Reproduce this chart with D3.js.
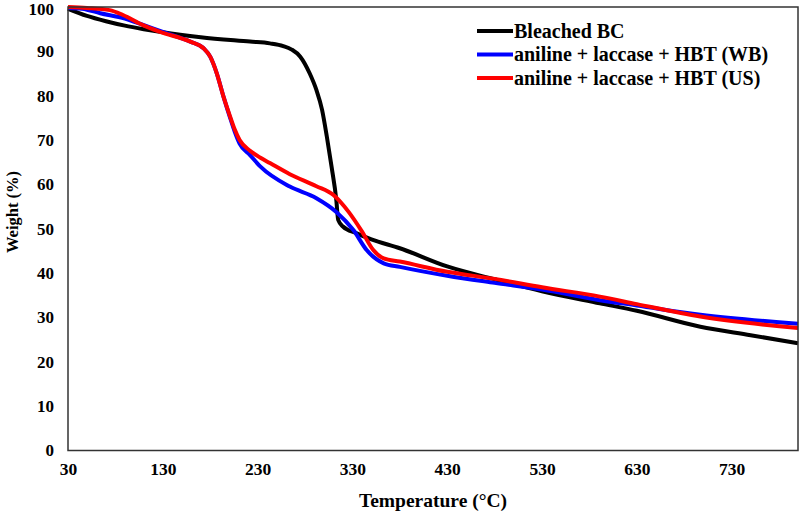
<!DOCTYPE html>
<html>
<head>
<meta charset="utf-8">
<script src="https://cdn.jsdelivr.net/npm/d3@7"></script>
<style>
    body { margin: 0; background: #fff; }
    text { font-family: "Liberation Serif", "Times New Roman", serif; font-weight: bold; fill: #000; }
</style>
</head>
<body>
<div id="chart"></div>
<script>
// temperature (°C) and weight (%)
var bleachedT = [30, 50, 70, 90, 110, 130, 170, 222, 243, 257, 266, 275, 285, 292, 298, 303, 308, 313, 315, 320, 334, 350, 380, 430, 480, 530, 591, 630, 697, 750, 800];
var bleachedW = [99.6, 98.0, 96.8, 95.8, 95.0, 94.3, 93.2, 92.2, 91.8, 91.2, 90.4, 88.8, 85.0, 81.3, 76.8, 70.8, 64.0, 56.5, 52.0, 50.5, 49.0, 47.6, 45.6, 41.5, 38.6, 35.9, 33.2, 31.5, 27.9, 26.0, 24.2];

var wbT = [30, 45, 64, 90, 110, 130, 159, 173, 180, 187, 194, 201, 206, 211, 222, 233, 264, 292, 313, 331, 345, 363, 380, 430, 480, 530, 591, 630, 697, 800];
var wbW = [99.8, 99.6, 98.6, 97.4, 95.9, 94.4, 92.2, 90.7, 88.8, 85.0, 79.8, 75.0, 71.8, 69.2, 66.6, 64.0, 59.5, 56.9, 53.8, 49.7, 45.2, 42.2, 41.4, 39.4, 37.8, 36.3, 33.9, 32.7, 30.6, 28.6];

var usT = [30, 50, 74, 88, 109, 127, 159, 173, 180, 187, 194, 201, 206, 211, 222, 233, 243, 264, 292, 310, 326, 340, 352, 363, 380, 430, 480, 530, 591, 630, 697, 800];
var usW = [100, 99.8, 99.3, 98.2, 95.9, 94.4, 92.2, 90.7, 88.8, 85.0, 79.8, 75.3, 72.3, 70.0, 67.6, 66.0, 64.8, 62.3, 59.6, 57.6, 53.8, 49.4, 45.2, 43.3, 42.6, 40.3, 38.7, 36.8, 34.7, 33.0, 30.2, 27.6];

var seriesNames = ["Bleached BC", "aniline + laccase + HBT (WB)", "aniline + laccase + HBT (US)"];
var seriesColors = ["#000000", "#0000ff", "#ff0000"];
var xTicks = [30, 130, 230, 330, 430, 530, 630, 730];
var yTicks = [0, 10, 20, 30, 40, 50, 60, 70, 80, 90, 100];

var width = 800, height = 512;
var margin = { top: 7, right: 2, bottom: 61.5, left: 68 };

var svg = d3.select("#chart")
    .append("svg")
    .attr("width", width)
    .attr("height", height);

var x = d3.scaleLinear()
    .domain([30, 800])
    .range([margin.left, width - margin.right]);

var y = d3.scaleLinear()
    .domain([0, 100])
    .range([height - margin.bottom, margin.top]);

function zip(ts, ws) {
    return ts.map(function(t, i) { return { t: t, w: ws[i] }; });
}
var series = [zip(bleachedT, bleachedW), zip(wbT, wbW), zip(usT, usW)];

var line = d3.line()
    .x(function(d) { return x(d.t); })
    .y(function(d) { return y(d.w); })
    .curve(d3.curveMonotoneX);

svg.selectAll(".line")
    .data(series)
    .enter()
    .append("path")
    .attr("class", "line")
    .attr("d", line)
    .attr("fill", "none")
    .attr("stroke", function(d, i) { return seriesColors[i]; })
    .attr("stroke-width", 4)
    .attr("stroke-linejoin", "round");

// plot frame
svg.append("rect")
    .attr("x", x(30))
    .attr("y", y(100))
    .attr("width", x(800) - x(30))
    .attr("height", y(0) - y(100))
    .attr("fill", "none")
    .attr("stroke", "#333")
    .attr("stroke-width", 1.5);

var xAxis = d3.axisBottom(x).tickValues(xTicks).tickSize(0).tickPadding(12);
var yAxis = d3.axisLeft(y).tickValues(yTicks).tickSize(0).tickPadding(14);

svg.append("g")
    .attr("class", "x-axis")
    .attr("transform", "translate(0," + y(0) + ")")
    .call(xAxis)
    .call(function(g) { g.select(".domain").remove(); })
    .selectAll("text")
    .style("font-size", "17.5px")
    .style("font-family", "Liberation Serif")
    .style("font-weight", "bold");

svg.append("g")
    .attr("class", "y-axis")
    .attr("transform", "translate(" + x(30) + ",0)")
    .call(yAxis)
    .call(function(g) { g.select(".domain").remove(); })
    .selectAll("text")
    .attr("dy", function(d) { return d === 100 ? "0.42em" : "0.32em"; })
    .style("font-size", "17px")
    .style("font-family", "Liberation Serif")
    .style("font-weight", "bold");

svg.append("text")
    .attr("x", 433)
    .attr("y", 507)
    .attr("text-anchor", "middle")
    .style("font-size", "19.5px")
    .text("Temperature (°C)");

svg.append("text")
    .attr("text-anchor", "middle")
    .attr("transform", "translate(18,212)rotate(-90)")
    .style("font-size", "16.5px")
    .text("Weight (%)");

// legend
var legend = svg.append("g")
    .attr("transform", "translate(477,31)");

var item = legend.selectAll(".legend-item")
    .data(seriesNames)
    .enter()
    .append("g")
    .attr("class", "legend-item")
    .attr("transform", function(d, i) { return "translate(0," + (i * 23.5) + ")"; });

item.append("line")
    .attr("x1", 0)
    .attr("x2", 36)
    .attr("stroke", function(d, i) { return seriesColors[i]; })
    .attr("stroke-width", 4);

item.append("text")
    .attr("x", 37)
    .attr("dy", "0.33em")
    .style("font-size", "20px")
    .text(function(d) { return d; });
</script>
</body>
</html>
